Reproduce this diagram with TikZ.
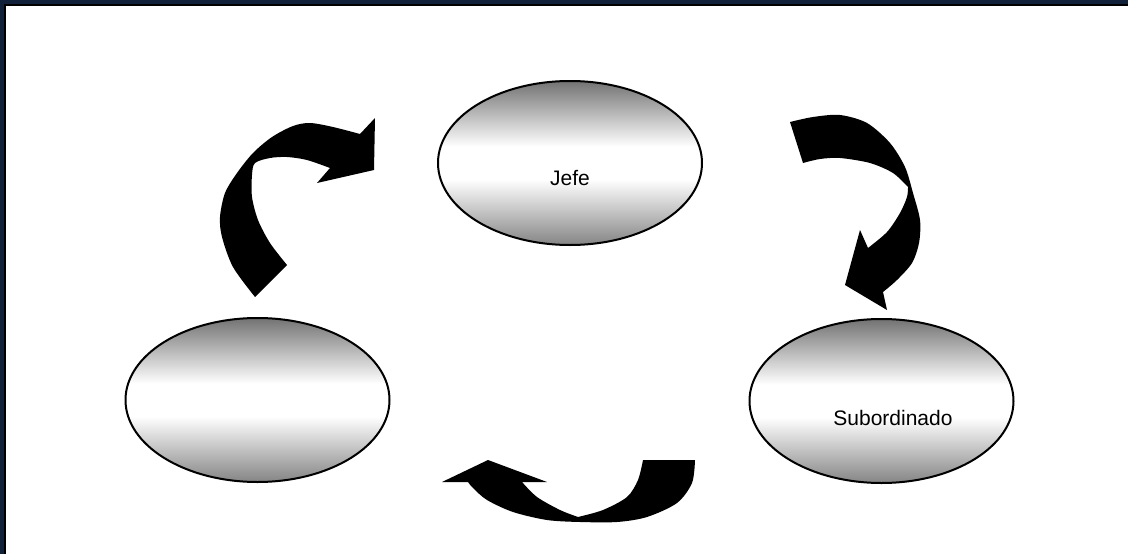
\documentclass[tikz,border=0pt]{standalone}
\usepackage{fontspec}
\setmainfont{Liberation Sans}
\usetikzlibrary{shapes.geometric}
\definecolor{navy}{HTML}{11213A}
\definecolor{gtop}{gray}{0.45}
\definecolor{gbot}{gray}{0.52}
\pgfdeclareverticalshading{ellgrad}{100bp}{color(0bp)=(gbot); color(25bp)=(gbot); color(45bp)=(white); color(55bp)=(white); color(75bp)=(gtop); color(100bp)=(gtop)}
\begin{document}
\begin{tikzpicture}[x=1pt,y=-1pt,
  ell/.style={ellipse, draw=black, line width=2pt, shading=ellgrad, minimum width=264pt, minimum height=164pt, inner sep=0pt},
  lbl/.style={font=\fontsize{21}{25}\selectfont, inner sep=0pt},
  blk/.style={fill=black}]
\useasboundingbox (0,0) rectangle (1128,554);
\fill[white] (0,0) rectangle (1128,554);
\fill[navy] (0,0) rectangle (1128,3.5);
\fill[navy] (0,0) rectangle (3.5,554);
\fill[black] (3.5,3.5) rectangle (1128,5.5);
\fill[black] (3.5,3.5) rectangle (5.5,554);

\node[ell] (jefe) at (570,163) {};
\node[ell] (left) at (257.5,400) {};
\node[ell] (sub) at (881.5,401) {};
\node[lbl] (jefeT) at (570,178) {Jefe};
\node[lbl] (subT) at (893,418) {Subordinado};

% top-left curved arrow
\fill[blk] plot[smooth] coordinates {(255,297) (233,267) (222,237) (220,217) (225,193) (237,173) (253,153) (272,137) (293,126) (310,123) (333,127) (360,134)}
  -- (375,118) -- (374,170) -- (317,183) -- (330,168)
  -- plot[smooth] coordinates {(330,168) (307,160) (287,157) (270,158) (255,163) (252,175) (252,197) (258,220) (270,243) (287,265)} -- cycle;

% top-right curved arrow
\fill[blk] plot[smooth] coordinates {(790,122) (813,117) (840,115) (867,123) (890,143) (905,167) (913,193) (920,220) (919,243) (912,263) (897,280) (883,292)}
  -- (887,310) -- (845,285) -- (860,230) -- (868,248)
  -- plot[smooth] coordinates {(868,248) (887,232) (900,213) (907,197) (908,187)}
  -- plot[smooth] coordinates {(908,187) (893,173) (870,163) (840,158) (820,159) (803,163)} -- cycle;

% bottom curved arrow
\fill[blk] plot[smooth] coordinates {(695,460) (692,483) (677,503) (647,517) (617,522) (580,522) (547,520) (513,512) (487,500) (473,488) (468,482)}
  -- (442,482) -- (488,460) -- (547,482) -- (522,482)
  -- plot[smooth] coordinates {(522,482) (537,497) (560,510) (578,517)}
  -- plot[smooth] coordinates {(578,517) (603,510) (627,497) (638,480) (643,460)} -- cycle;
\end{tikzpicture}
\end{document}
